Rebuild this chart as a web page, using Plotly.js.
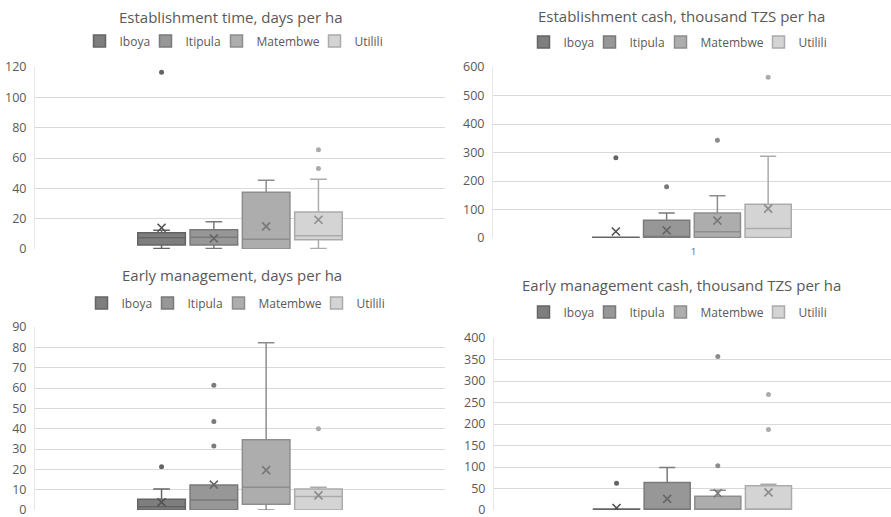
<!DOCTYPE html>
<html>
<head>
<meta charset="utf-8">
<script src="https://cdn.plot.ly/plotly-3.0.1.min.js"></script>
<style>html,body{margin:0;padding:0;background:#fff}#chart{width:891px;height:517px}</style>
</head>
<body>
<div id="chart"></div>
<script>
const villages = ['Iboya', 'Itipula', 'Matembwe', 'Utilili'];
const fills = ['#7e7e7e', '#979797', '#adadad', '#d4d4d4'];
const lines = ['#646464', '#7a7a7a', '#8d8d8d', '#ababab'];
const meanColors = ['#505050', '#666666', '#787878', '#8c8c8c'];

const chartTitles = [
  'Establishment time, days per ha',
  'Establishment cash, thousand TZS per ha',
  'Early management, days per ha',
  'Early management cash, thousand TZS per ha'
];

// Establishment time, days per ha
const etLower = [0.4, 0.4, 0, 0.4];
const etQ1 = [2.6, 2.6, 0, 6.1];
const etMedian = [7.5, 7.7, 6.4, 8.8];
const etQ3 = [10.7, 12.7, 37.5, 24.4];
const etUpper = [12.3, 18, 45.4, 46];
const etMean = [14, 7, 14.9, 19.3];
const etOutliers = [[116.5], [], [], [53, 65.4]];

// Establishment cash, thousand TZS per ha
const ecLower = [0, 2, 2, 2];
const ecQ1 = [0, 2, 2, 2];
const ecMedian = [1, 2, 22, 33];
const ecQ3 = [3, 62, 88, 118];
const ecUpper = [3, 88, 148, 287];
const ecMean = [23, 27, 61, 103];
const ecOutliers = [[282], [180], [343], [564]];

// Early management, days per ha
const emLower = [0, 0, 0, 0];
const emQ1 = [0, 0, 2.8, 0];
const emMedian = [1.6, 4.9, 11.2, 6.6];
const emQ3 = [5.3, 12.3, 34.6, 10.3];
const emUpper = [10.3, 12.3, 82.3, 11.2];
const emMean = [3.8, 12.5, 19.6, 7.2];
const emOutliers = [[21.3], [31.5, 43.5, 61.4], [], [39.9]];

// Early management cash, thousand TZS per ha
const mcLower = [0, 0, 0, 0];
const mcQ1 = [0, 0, 0, 0];
const mcMedian = [0, 0, 0, 0];
const mcQ3 = [2.5, 64, 32, 56.5];
const mcUpper = [2.5, 99, 46, 60];
const mcMean = [4.6, 26, 39, 41];
const mcOutliers = [[62], [], [103, 357], [187, 268.5]];

const yRanges = [[0, 120], [0, 600], [0, 90], [0, 400]];
const yDtick = [20, 100, 10, 50];

const panels = [
  {lo: etLower, q1: etQ1, med: etMedian, q3: etQ3, up: etUpper, mean: etMean, out: etOutliers},
  {lo: ecLower, q1: ecQ1, med: ecMedian, q3: ecQ3, up: ecUpper, mean: ecMean, out: ecOutliers},
  {lo: emLower, q1: emQ1, med: emMedian, q3: emQ3, up: emUpper, mean: emMean, out: emOutliers},
  {lo: mcLower, q1: mcQ1, med: mcMedian, q3: mcQ3, up: mcUpper, mean: mcMean, out: mcOutliers}
];

const W = 891, H = 517;
// pixel boxes of plot areas [left, right, top, bottom]
const areas = [[35, 445, 67, 249], [493, 891, 67, 238], [35, 445, 327, 510], [494, 891, 338, 510]];
const titlePos = [[230, 17], [681, 16], [232, 275], [681, 285]];
const legendPos = [[235, 41], [679, 42], [237, 303], [679, 312]];

const font = 'Open Sans, Noto Sans, Arial, sans-serif';
const legendFontSize = 12;

// measure legend label widths so entries sit close together like the original
const ctx = document.createElement('canvas').getContext('2d');
ctx.font = legendFontSize + 'px "Open Sans"';
const legendWidths = villages.map((v, i) => {
  const w = Math.ceil(ctx.measureText(v).width);
  return i === villages.length - 1 ? w + 2 : Math.max(1, w - 10);
});

const traces = [];
const layout = {
  width: W, height: H,
  margin: {l: 0, r: 0, t: 0, b: 0},
  paper_bgcolor: '#ffffff', plot_bgcolor: '#ffffff',
  boxmode: 'overlay', boxgap: 0.09, boxgroupgap: 0,
  font: {family: font, color: '#595959'},
  showlegend: true,
  annotations: []
};

panels.forEach((p, k) => {
  const ax = k === 0 ? '' : String(k + 1);
  const lg = k === 0 ? 'legend' : 'legend' + (k + 1);
  villages.forEach((v, i) => {
    traces.push({
      type: 'box', name: v, x: [v],
      q1: [p.q1[i]], median: [p.med[i]], q3: [p.q3[i]],
      lowerfence: [p.lo[i]], upperfence: [p.up[i]],
      fillcolor: fills[i], line: {color: lines[i], width: 1.5},
      whiskerwidth: 0.35, boxpoints: false,
      legendwidth: legendWidths[i],
      xaxis: 'x' + ax, yaxis: 'y' + ax, legend: lg, hoverinfo: 'skip'
    });
  });
  villages.forEach((v, i) => {
    traces.push({
      type: 'scatter', mode: 'markers', x: [v], y: [p.mean[i]],
      marker: {symbol: 'x-thin', size: 8, line: {color: meanColors[i], width: 1.6}},
      xaxis: 'x' + ax, yaxis: 'y' + ax, showlegend: false, hoverinfo: 'skip'
    });
    if (p.out[i].length) {
      traces.push({
        type: 'scatter', mode: 'markers', x: p.out[i].map(() => v), y: p.out[i],
        marker: {symbol: 'circle', size: 5, color: lines[i]},
        xaxis: 'x' + ax, yaxis: 'y' + ax, showlegend: false, hoverinfo: 'skip'
      });
    }
  });
  const a = areas[k];
  layout['xaxis' + ax] = {
    domain: [a[0] / W, a[1] / W], anchor: 'y' + ax,
    type: 'category', categoryarray: villages, range: [-2.42, 5.42],
    showticklabels: false, showgrid: false, zeroline: false, showline: false, ticks: '', fixedrange: true
  };
  layout['yaxis' + ax] = {
    domain: [1 - a[3] / H, 1 - a[2] / H], anchor: 'x' + ax,
    range: yRanges[k], dtick: yDtick[k], tick0: 0,
    showgrid: true, gridcolor: '#d9d9d9', gridwidth: 1,
    zeroline: false, showline: true, linecolor: '#e6e6e6', linewidth: 1, ticks: '',
    ticklabelstandoff: 5, ticklabeloverflow: 'allow',
    tickfont: {family: font, size: 12.5, color: '#595959'}, fixedrange: true
  };
  layout[lg] = {
    orientation: 'h', x: legendPos[k][0] / W, y: 1 - legendPos[k][1] / H,
    xanchor: 'center', yanchor: 'middle',
    font: {family: font, size: legendFontSize, color: '#595959'},
    itemclick: false, itemdoubleclick: false, bgcolor: 'rgba(0,0,0,0)'
  };
  layout.annotations.push({
    text: chartTitles[k], xref: 'paper', yref: 'paper',
    x: titlePos[k][0] / W, y: 1 - titlePos[k][1] / H,
    xanchor: 'center', yanchor: 'middle', showarrow: false,
    font: {family: font, size: 15, color: '#595959'}
  });
});

layout.annotations.push({
  text: '1', xref: 'paper', yref: 'paper', x: 693 / W, y: 1 - 251 / H,
  xanchor: 'center', yanchor: 'middle', showarrow: false,
  font: {family: font, size: 9, color: '#595959'}
});

Plotly.newPlot('chart', traces, layout, {staticPlot: true, displayModeBar: false});
</script>
</body>
</html>
